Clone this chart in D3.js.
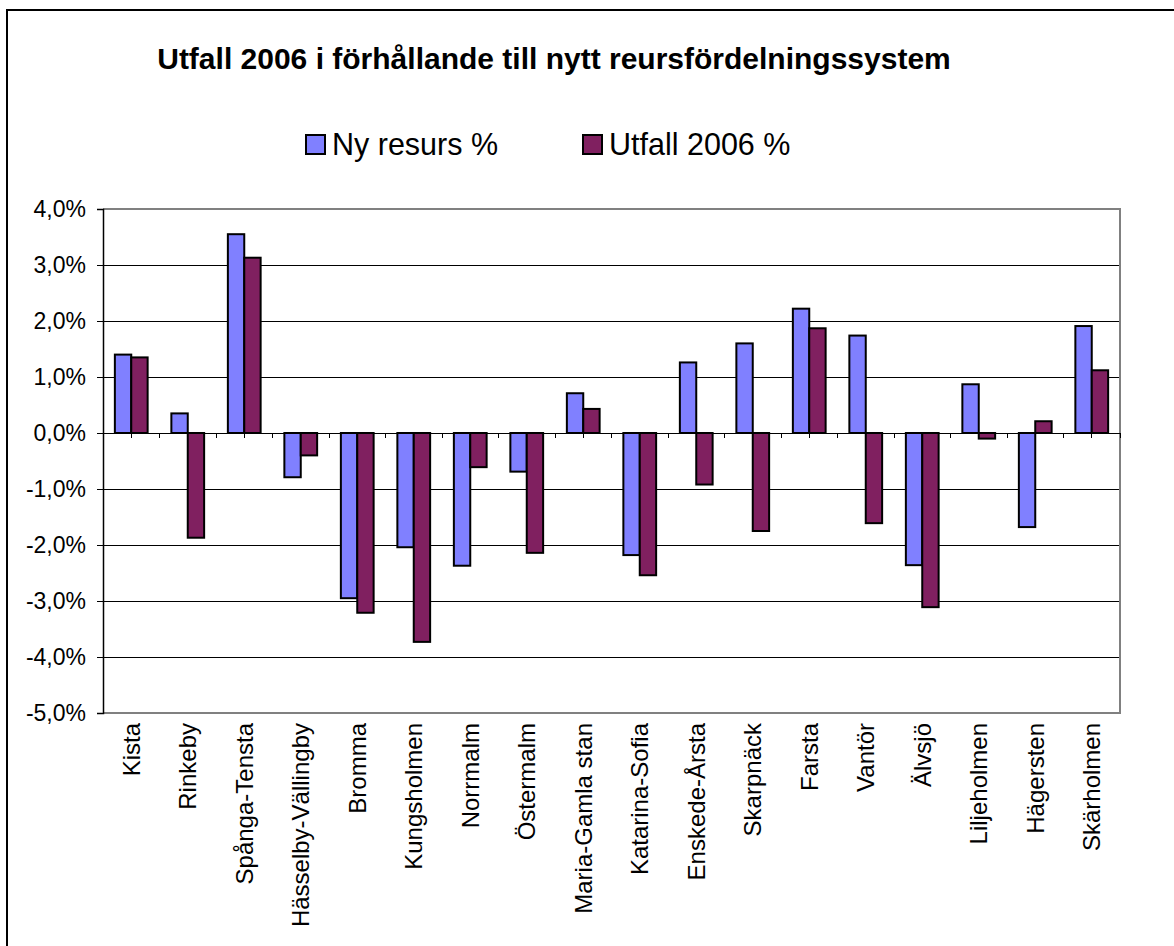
<!DOCTYPE html>
<html>
<head>
<meta charset="utf-8">
<script src="https://cdn.jsdelivr.net/npm/d3@7"></script>
<style>
  body { margin: 0; background: #fff; }
  svg { display: block; font-family: "Liberation Sans", Arial, sans-serif; }
  line { shape-rendering: crispEdges; }
</style>
</head>
<body>
<div id="chart"></div>
<script>
// chart data
const categories = ['Kista', 'Rinkeby', 'Spånga-Tensta', 'Hässelby-Vällingby', 'Bromma', 'Kungsholmen',
  'Norrmalm', 'Östermalm', 'Maria-Gamla stan', 'Katarina-Sofia', 'Enskede-Årsta', 'Skarpnäck',
  'Farsta', 'Vantör', 'Älvsjö', 'Liljeholmen', 'Hägersten', 'Skärholmen'];
const nyResurs = [1.40, 0.35, 3.55, -0.79, -2.95, -2.04, -2.37, -0.69, 0.71, -2.18, 1.26, 1.60, 2.22, 1.74, -2.36, 0.87, -1.68, 1.91];
const utfall2006 = [1.35, -1.87, 3.13, -0.40, -3.21, -3.73, -0.61, -2.14, 0.43, -2.54, -0.92, -1.75, 1.87, -1.61, -3.11, -0.10, 0.21, 1.12];
const seriesNames = ['Ny resurs %', 'Utfall 2006 %'];
const yTicks = [4, 3, 2, 1, 0, -1, -2, -3, -4, -5];
const title = 'Utfall 2006 i förhållande till nytt reursfördelningssystem';

const width = 1174, height = 946;
const colors = ['#8080ff', '#802060'];
const plot = { left: 103, right: 1120, top: 209, bottom: 713 };

// swedish number format: comma decimal, plain hyphen minus
const sv = d3.formatLocale({ decimal: ',', thousands: ' ', grouping: [3], currency: ['', ' kr'], minus: '-' });
const fmt = v => sv.format('.1f')(v) + '%';

const svg = d3.select('#chart').append('svg')
  .attr('width', width)
  .attr('height', height);

// outer chart frame (runs past the window on right and bottom)
svg.append('rect')
  .attr('x', 7).attr('y', 10)
  .attr('width', width + 20).attr('height', height + 20)
  .attr('fill', 'none').attr('stroke', '#000').attr('stroke-width', 2);

// title
svg.append('text')
  .attr('x', 554).attr('y', 69)
  .attr('text-anchor', 'middle')
  .style('font-size', '30px').style('font-weight', 'bold')
  .text(title);

// legend
const legendX = [306, 583];
const legend = svg.selectAll('.legend')
  .data(seriesNames)
  .join('g')
  .attr('class', 'legend')
  .attr('transform', (d, i) => `translate(${legendX[i]},135)`);
legend.append('rect')
  .attr('width', 19).attr('height', 19)
  .attr('fill', (d, i) => colors[i])
  .attr('stroke', '#000').attr('stroke-width', 2);
legend.append('text')
  .attr('x', 26).attr('y', 20)
  .style('font-size', '30.5px')
  .text(d => d);

// scales
const y = d3.scaleLinear().domain([-5, 4]).range([plot.bottom, plot.top]);
const x = d3.scaleBand().domain(categories).range([plot.left, plot.right])
  .paddingInner(0.42).paddingOuter(0.21);
const step = x.step();
const xs = d3.scaleBand().domain(seriesNames).range([0, x.bandwidth()]);

// gridlines
svg.append('g')
  .selectAll('line')
  .data(yTicks.filter(t => t > -5 && t < 4))
  .join('line')
  .attr('x1', plot.left).attr('x2', plot.right)
  .attr('y1', d => y(d)).attr('y2', d => y(d))
  .attr('stroke', '#000').attr('stroke-width', 1);

// plot frame
svg.append('path')
  .attr('d', `M${plot.left},${plot.top}H${plot.right}V${plot.bottom}H${plot.left}`)
  .attr('fill', 'none').attr('stroke', '#808080').attr('stroke-width', 2);

// y axis
const yAxis = svg.append('g')
  .attr('transform', `translate(${plot.left},0)`)
  .call(d3.axisLeft(y).tickValues(yTicks).tickFormat(fmt).tickSize(6).tickPadding(11));
yAxis.select('.domain').attr('stroke', '#000').attr('stroke-width', 1.5);
yAxis.selectAll('.tick line').attr('stroke', '#000');
yAxis.selectAll('.tick text').style('font-size', '23px').attr('fill', '#000');

// x ticks at category edges and centres (under the bars)
const edges = d3.range(categories.length * 2 + 1).map(i => plot.left + i * step / 2);
svg.append('g')
  .selectAll('line')
  .data(edges)
  .join('line')
  .attr('x1', d => d).attr('x2', d => d)
  .attr('y1', y(0)).attr('y2', y(0) + 5)
  .attr('stroke', '#000').attr('stroke-width', 1);

// bars
const seriesValues = [nyResurs, utfall2006];
seriesValues.forEach((vals, si) => {
  svg.append('g')
    .selectAll('rect')
    .data(vals)
    .join('rect')
    .attr('x', (d, i) => x(categories[i]) + xs(seriesNames[si]))
    .attr('width', xs.bandwidth())
    .attr('y', d => y(Math.max(0, d)))
    .attr('height', d => Math.abs(y(d) - y(0)))
    .attr('fill', colors[si])
    .attr('stroke', '#000').attr('stroke-width', 2);
});

// zero line
svg.append('line')
  .attr('x1', plot.left).attr('x2', plot.right)
  .attr('y1', y(0)).attr('y2', y(0))
  .attr('stroke', '#000').attr('stroke-width', 1);

// category labels, rotated
svg.append('g')
  .selectAll('text')
  .data(categories)
  .join('text')
  .attr('transform', d => `translate(${x(d) + x.bandwidth() / 2},723) rotate(-90)`)
  .attr('text-anchor', 'end')
  .attr('dy', '0.35em')
  .style('font-size', '24px')
  .text(d => d);
</script>
</body>
</html>
